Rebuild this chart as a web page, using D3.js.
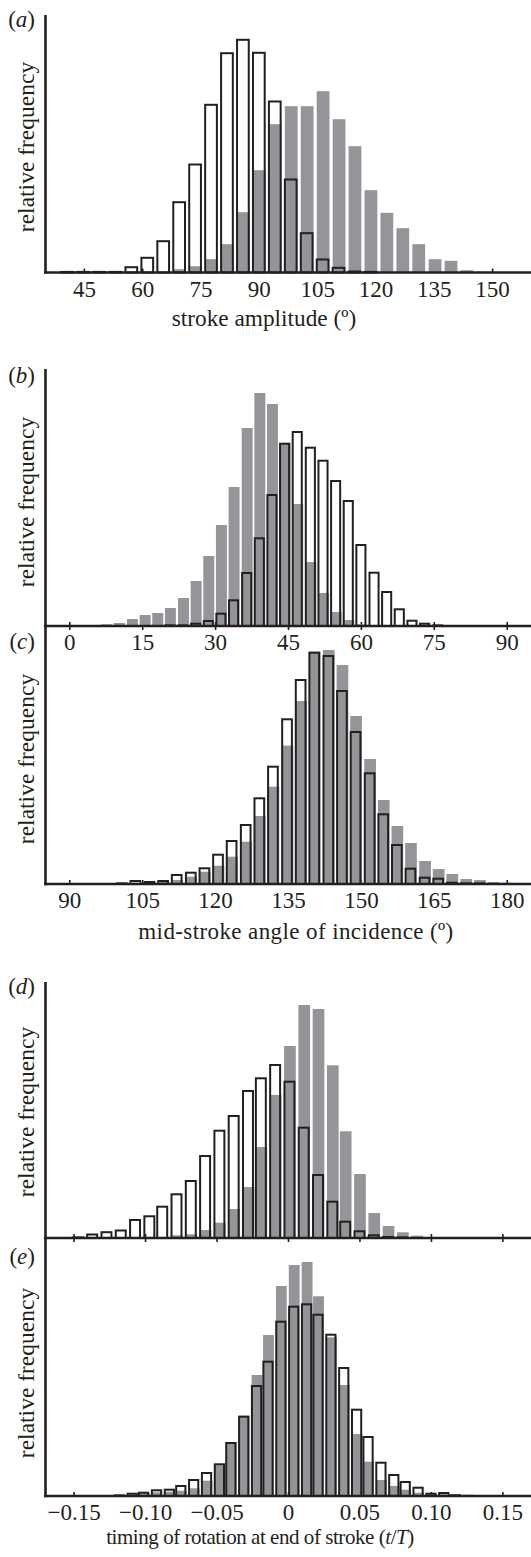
<!DOCTYPE html>
<html><head><meta charset="utf-8">
<script src="https://cdn.jsdelivr.net/npm/d3@7"></script>
<style>
html,body{margin:0;padding:0;background:#fff;}
svg{display:block;}
text{font-family:"Liberation Serif","Times New Roman",serif;fill:#231f20;}
</style></head><body>
<svg id="chart" width="531" height="1557"></svg>
<script>
// ---------- DATA (relative frequency, arbitrary units) ----------
// (a) stroke amplitude (deg)
const ampBins = [40.7,44.8,48.9,53.1,57.2,61.3,65.4,69.5,73.6,77.7,81.8,85.9,90.0,94.1,98.2,102.3,106.4,110.5,114.6,118.7,122.8,126.9,131.0,135.2,139.3,143.4,147.5];
const ampBinWidth = 4.105;
const ampOpen = [1,1,1,1.3,6.3,15.7,32.3,71.3,109,168.7,220.3,233.7,220.7,172,94,40.3,14,5.7,2,1,0,0,0,0,0,0,0];
const ampGray = [0,0,0,0,0,0,0.5,3.3,6.3,13.3,28.3,60.3,102.3,148.3,166.3,166.3,181.3,153.3,126.3,82.3,59.7,44.3,28.3,13.3,11.7,2.3,0.7];
const ampTicks = [45,60,75,90,105,120,135,150];

// (b) mid-stroke angle of incidence, first set (deg)
const aoiBinsB = [7.6,10.2,12.9,15.5,18.1,20.7,23.4,26.0,28.6,31.2,33.8,36.5,39.1,41.7,44.3,46.9,49.6,52.2,54.8,57.4,60.0,62.7,65.3,67.9,70.5,73.1,75.8,78.4];
const aoiBinWidthB = 2.621;
const aoiOpenB = [0,0,0,0,0,0.5,1.3,3.3,6,13.3,26.7,54,88.7,132,183.3,195,179.3,166.3,146,126,82,54.3,35,17.7,6.3,3.3,1,0];
const aoiGrayB = [1.7,3,7,11,13,18,28,45,70,101,139,198,233,222,183,122,64,33,14,6,1.7,0.7,0.5,0.5,0.5,0.5,1,0.7];
const aoiTicksB = [0,15,30,45,60,75,90];

// (c) mid-stroke angle of incidence, second set (deg)
const aoiBinsC = [100.8,103.6,106.5,109.3,112.1,115.0,117.8,120.6,123.4,126.3,129.1,131.9,134.8,137.6,140.4,143.3,146.1,148.9,151.8,154.6,157.4,160.2,163.1,165.9,168.7,171.6,174.4,177.2,180.0,182.9];
const aoiBinWidthC = 2.831;
const aoiOpenC = [1,4,3,4,10,12.3,16.7,30.3,44,60,86.7,118.3,165.7,205,232.3,229,194,153,111.7,70.7,40,16.3,7.3,6.3,2.3,1.3,0.7,0,0,0];
const aoiGrayC = [1,1.3,1.7,2.7,4,7.3,12.3,18.3,27.3,42.3,68,97.3,138.3,183,232.3,234,219,168,125,84,58,41,23,15,10,5,4,2,1.3,0.7];
const aoiTicksC = [90,105,120,135,150,165,180];

// (d) timing of rotation, first set (t/T)
const timBinsD = [-0.147,-0.137,-0.127,-0.117,-0.107,-0.097,-0.088,-0.078,-0.068,-0.058,-0.048,-0.038,-0.028,-0.019,-0.009,0.001,0.011,0.021,0.031,0.040,0.050,0.060,0.070,0.080,0.090,0.100];
const timBinWidthD = 0.009845;
const timOpenD = [0.7,4.5,6.8,8.5,19,22.7,32.3,44.7,58,83,108.3,123,148,160.7,174,157.3,111.3,64,37.3,17.3,7.7,3.7,2,0.7,0,0];
const timGrayD = [0,0,0,0,0,0,0.3,2.7,3.7,8,15.3,29,51,91,143,192,233,229,172.7,106.7,64,25,12,5.7,2.3,1];

// (e) timing of rotation, second set (t/T)
const timBinsE = [-0.118,-0.109,-0.101,-0.092,-0.083,-0.075,-0.066,-0.057,-0.048,-0.040,-0.031,-0.022,-0.014,-0.005,0.004,0.013,0.021,0.030,0.039,0.048,0.056,0.065,0.074,0.082,0.091,0.100,0.109,0.117,0.126,0.135];
const timBinWidthE = 0.008722;
const timOpenE = [1,3.3,4.3,6.7,7.3,11,17,24,32.7,54,80.3,111,135.3,175.3,190.3,192.7,182.3,162.3,129,87.3,60,34.3,22,15,9.3,3.3,4,0.7,0,0];
const timGrayE = [0.7,1.3,2.7,3.7,4.3,5.3,7.7,15.3,30.7,54,80.3,121,161,210,231,234,199.7,158.7,111,62,34.3,16,10,6.3,3.3,2,1.7,2,1.3,0.7];
const timTicks = [-0.15,-0.10,-0.05,0,0.05,0.10,0.15];
const timTickLabels = ["\u22120.15","\u22120.10","\u22120.05","0","0.05","0.10","0.15"];

const panelLetters = ["a","b","c","d","e"];
const yTitle = "relative frequency";

// ---------- STYLE / LAYOUT ----------
const GRAY = "#939598", INK = "#231f20";
const FS = 23;
const X0 = 45.5, X1 = 531;
const panels = [
  {bins:ampBins, bw:ampBinWidth, open:ampOpen, gray:ampGray, dom:[35,160], top:15, base:272.5,
   ticks:ampTicks, fmt:d=>String(d), gfrac:0.80, ofrac:0.86,
   letterY:27, yTitleC:147, xTitle:"stroke amplitude (\u00BA)", xTitleX:264, xTitleY:326, xTitleFS:23.3, xTitleLS:0},
  {bins:aoiBinsB, bw:aoiBinWidthB, open:aoiOpenB, gray:aoiGrayB, dom:[-5,95], top:369, base:626,
   ticks:aoiTicksB, fmt:d=>String(d), gfrac:0.86, ofrac:0.87,
   letterY:383, yTitleC:502},
  {bins:aoiBinsC, bw:aoiBinWidthC, open:aoiOpenC, gray:aoiGrayC, dom:[85,185], top:626, base:884,
   ticks:aoiTicksC, fmt:d=>String(d), topTicks:true, gfrac:0.85, ofrac:0.85,
   letterY:649, yTitleC:759, xTitle:"mid-stroke angle of incidence (\u00BA)", xTitleX:296, xTitleY:939, xTitleFS:23, xTitleLS:0.4},
  {bins:timBinsD, bw:timBinWidthD, open:timOpenD, gray:timGrayD, dom:[-0.17,0.17], top:982, base:1238,
   ticks:timTicks, fmt:()=>"", gfrac:0.83, ofrac:0.85,
   letterY:994, yTitleC:1112},
  {bins:timBinsE, bw:timBinWidthE, open:timOpenE, gray:timGrayE, dom:[-0.17,0.17], top:1238, base:1496,
   ticks:timTicks, fmt:(d,i)=>timTickLabels[i], topTicks:true, gfrac:0.87, ofrac:0.9,
   letterY:1264, yTitleC:1373, xTitle:"timing of rotation at end of stroke (", xTitleX:260, xTitleY:1544, xTitleFS:21, xTitleLS:-0.45, timing:true}
];

const svg = d3.select("#chart");

panels.forEach((p, pi) => {
  const x = d3.scaleLinear().domain(p.dom).range([X0 - 0.5, X1]);
  const H = p.base - p.top;
  const y = d3.scaleLinear().domain([0, H]).range([p.base, p.top]);
  const g = svg.append("g");

  // ticks + labels
  const ax = g.append("g").attr("transform", `translate(0,${p.base})`)
    .call(d3.axisBottom(x).tickValues(p.ticks).tickSizeInner(-4).tickSizeOuter(0).tickPadding(8).tickFormat(p.fmt));
  ax.select(".domain").remove();
  ax.selectAll(".tick line").attr("stroke", INK).attr("stroke-width", 1.6);
  ax.selectAll(".tick text").attr("font-size", FS).attr("font-family", '"Liberation Serif","Times New Roman",serif').attr("fill", INK);
  if (p.topTicks) {
    const at = g.append("g").attr("transform", `translate(0,${p.top})`)
      .call(d3.axisTop(x).tickValues(p.ticks).tickSizeInner(-4).tickSizeOuter(0).tickFormat(() => ""));
    at.select(".domain").remove();
    at.selectAll(".tick line").attr("stroke", INK).attr("stroke-width", 1.6);
  }

  const binPx = x(p.bins[0] + p.bw) - x(p.bins[0]);
  const gw = binPx * p.gfrac;
  const ow = binPx * p.ofrac;
  const sw = 2;

  g.append("g").selectAll("rect")
    .data(d3.zip(p.bins, p.gray).filter(d => d[1] > 0))
    .join("rect")
    .attr("x", d => x(d[0]) - gw / 2 + 0.5)
    .attr("y", d => y(d[1]))
    .attr("width", gw)
    .attr("height", d => p.base - y(d[1]))
    .attr("fill", GRAY);

  g.append("g").selectAll("rect")
    .data(d3.zip(p.bins, p.open).filter(d => d[1] > 0))
    .join("rect")
    .attr("x", d => x(d[0]) - ow / 2 + sw / 2)
    .attr("y", d => Math.min(y(d[1]) + sw / 2, p.base - 0.6))
    .attr("width", ow - sw)
    .attr("height", d => Math.max(p.base - y(d[1]) - sw / 2, 0.6))
    .attr("fill", "none")
    .attr("stroke", INK)
    .attr("stroke-width", sw);

  // axis lines
  g.append("line").attr("x1", X0).attr("x2", X0).attr("y1", p.top).attr("y2", p.base + 1.3)
    .attr("stroke", INK).attr("stroke-width", 2.6);
  g.append("line").attr("x1", X0 - 1.3).attr("x2", X1).attr("y1", p.base).attr("y2", p.base)
    .attr("stroke", INK).attr("stroke-width", 2.7);

  // panel letter
  const lt = g.append("text").attr("x", 35).attr("y", p.letterY).attr("text-anchor", "end").attr("font-size", FS);
  lt.append("tspan").text("(");
  lt.append("tspan").attr("font-style", "italic").text(panelLetters[pi]);
  lt.append("tspan").text(")");

  // y title
  g.append("text").attr("transform", `translate(34,${p.yTitleC}) rotate(-90)`)
    .attr("text-anchor", "middle").attr("font-size", 23.5).text(yTitle);

  // x title
  if (p.xTitle) {
    const t = g.append("text").attr("x", p.xTitleX).attr("y", p.xTitleY).attr("text-anchor", "middle")
      .attr("font-size", p.xTitleFS).attr("letter-spacing", p.xTitleLS);
    t.append("tspan").text(p.xTitle);
    if (p.timing) {
      t.append("tspan").attr("font-style", "italic").text("t");
      t.append("tspan").text("/");
      t.append("tspan").attr("font-style", "italic").text("T");
      t.append("tspan").text(")");
    }
  }
});
</script>
</body></html>
